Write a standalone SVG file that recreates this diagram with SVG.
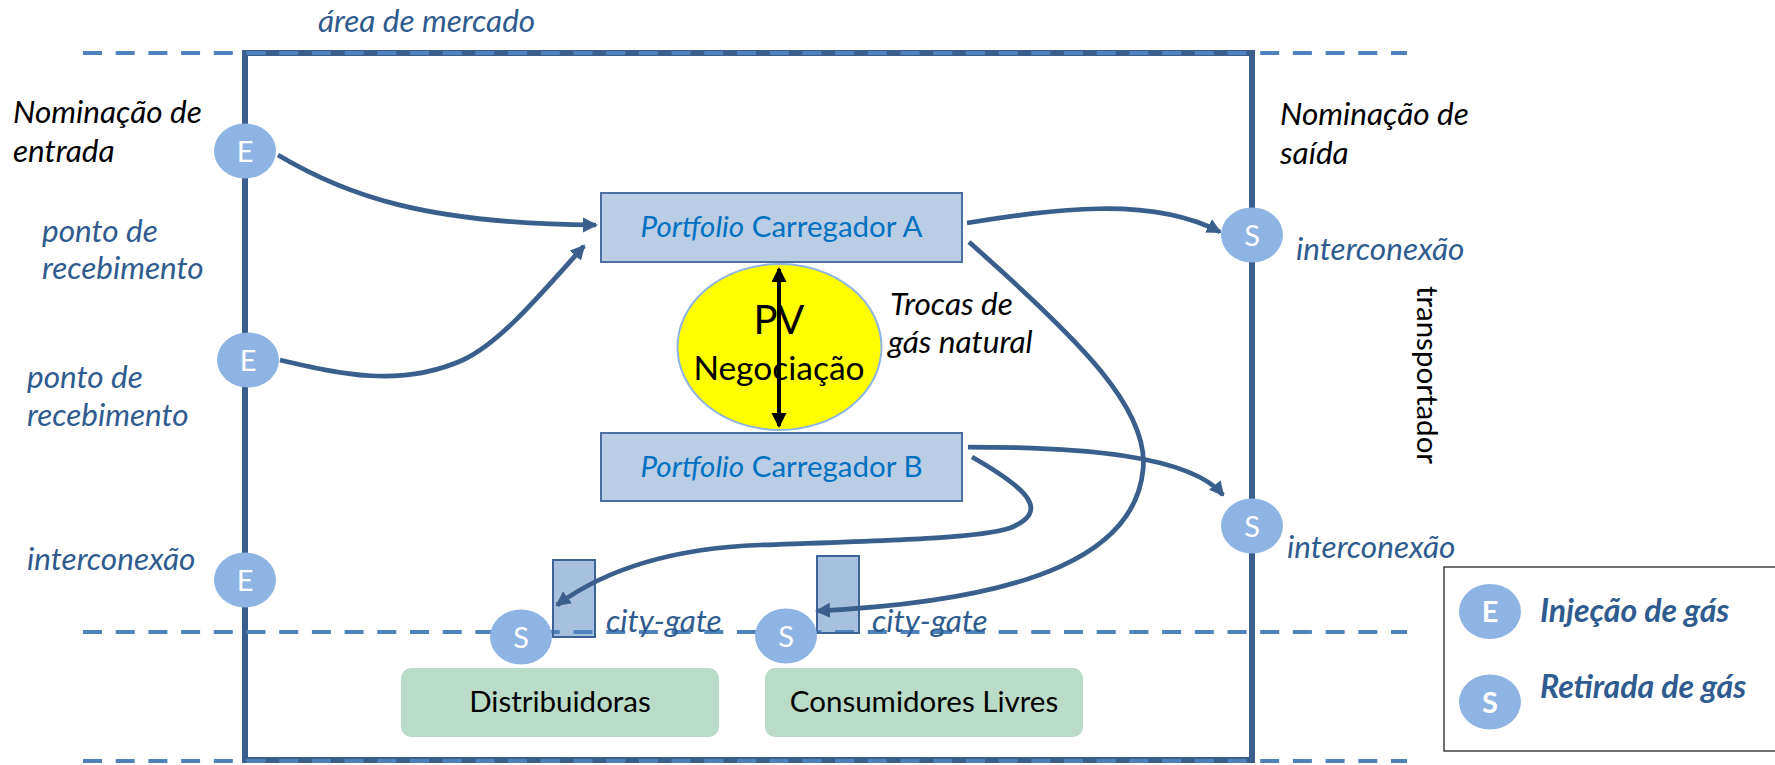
<svg xmlns="http://www.w3.org/2000/svg" width="1775" height="765" viewBox="0 0 1775 765">
<style>
text{font-family:Lato,"Liberation Sans",sans-serif}
.lb{font-style:italic;font-size:31.5px;fill:#2F5B8F}
.bk{font-style:italic;font-size:31.5px;fill:#000}
.lt{font-size:29px;fill:#fff;text-anchor:middle}
.pt{font-size:29.5px;fill:#0070C0;text-anchor:middle}
.dash{stroke:#4F81BD;stroke-width:4;stroke-dasharray:19 13.7;fill:none}
.pt-box{fill:#B9CDE5;stroke:#4A6FA0;stroke-width:2}
.cg{fill:#4F81BD;fill-opacity:0.5;stroke:#3E6398;stroke-width:2}
.green{fill:#BADBC8}
.es{fill:#8EB4E3}
.conn{fill:none;stroke:#3A5F8C;stroke-width:4.75;marker-end:url(#ah)}
.leg{font-style:italic;font-weight:bold;font-size:32px;fill:#2F5B8F}
</style>
<defs>
<marker id="ah" markerUnits="userSpaceOnUse" markerWidth="16" markerHeight="16" viewBox="0 0 16 16" refX="13" refY="7.5" orient="auto">
<path d="M0,0 L15,7.5 L0,15 z" fill="#3A5F8C"/>
</marker>
<marker id="bh" markerUnits="userSpaceOnUse" markerWidth="16" markerHeight="16" viewBox="0 0 16 16" refX="13" refY="7.5" orient="auto-start-reverse">
<path d="M0,0 L15,7.5 L0,15 z" fill="#000"/>
</marker>
</defs>
<rect width="1775" height="765" fill="#fff"/>

<g id="market-area">
<rect x="245" y="53" width="1007" height="707" fill="none" stroke="#3A5F8C" stroke-width="6"/>
</g>
<g id="distribuidoras">
<rect class="green" x="401" y="668" width="318" height="69" rx="10"/>
<text x="560" y="712" font-size="29.5" text-anchor="middle" fill="#000">Distribuidoras</text>
</g>
<g id="consumidores">
<rect class="green" x="765" y="668" width="318" height="69" rx="10"/>
<text x="924" y="712" font-size="29.5" text-anchor="middle" fill="#000">Consumidores Livres</text>
</g>

<g id="boundaries">
<line class="dash" x1="83" y1="53" x2="1407" y2="53"/>
<line class="dash" x1="83" y1="632" x2="1407" y2="632"/>
<line class="dash" x1="83" y1="761" x2="1407" y2="761"/>
</g>

<g id="citygate1"><rect class="cg" x="553" y="560" width="42" height="77"/></g>
<g id="citygate2"><rect class="cg" x="817" y="556" width="42" height="77"/></g>

<g id="pv">
<ellipse cx="779.5" cy="347" rx="102" ry="83" fill="#FFFF00" stroke="#8EB4E3" stroke-width="2"/>
<text x="779" y="334" font-size="40" text-anchor="middle" fill="#000">PV</text>
<text x="779" y="380" font-size="33.5" text-anchor="middle" fill="#000">Negociação</text>
</g>

<g id="portfolioA">
<rect class="pt-box" x="601" y="193" width="361" height="69"/>
<text class="pt" x="781.5" y="237"><tspan font-style="italic">Portfolio</tspan> Carregador A</text>
</g>
<g id="portfolioB">
<rect class="pt-box" x="601" y="433" width="361" height="68"/>
<text class="pt" x="781.5" y="477"><tspan font-style="italic">Portfolio</tspan> Carregador B</text>
</g>

<g id="connectors">
<path class="conn" d="M278,155 C345,195 425,224 596,225"/>
<path class="conn" d="M280,360 C340,374 400,388 463,360 C500,343 540,295 584,246"/>
<path class="conn" d="M967,223 C1050,210 1150,195 1220,232"/>
<path class="conn" d="M969,242 C1080,340 1150,410 1143,470 C1135,550 1040,600 817,611"/>
<path class="conn" d="M968,447 C1080,447 1190,455 1223,495"/>
<path class="conn" d="M972,457 C1030,490 1050,512 1010,528 C980,538 900,540 760,545 C680,548 610,566 557,605"/>
<line x1="779" y1="269" x2="779" y2="426" stroke="#000" stroke-width="4" marker-start="url(#bh)" marker-end="url(#bh)"/>
</g>

<g id="E1"><ellipse class="es" cx="245" cy="151" rx="31" ry="27.5"/><text class="lt" x="245" y="162">E</text></g>
<g id="E2"><ellipse class="es" cx="248" cy="360" rx="31" ry="27.5"/><text class="lt" x="248" y="371">E</text></g>
<g id="E3"><ellipse class="es" cx="245" cy="580" rx="31" ry="27.5"/><text class="lt" x="245" y="591">E</text></g>
<g id="S1"><ellipse class="es" cx="1252" cy="235" rx="31" ry="27.5"/><text class="lt" x="1252" y="246">S</text></g>
<g id="S2"><ellipse class="es" cx="1252" cy="526" rx="31" ry="27.5"/><text class="lt" x="1252" y="537">S</text></g>
<g id="S3"><ellipse class="es" cx="521" cy="637" rx="31" ry="27.5"/><text class="lt" x="521" y="648">S</text></g>
<g id="S4"><ellipse class="es" cx="786" cy="636" rx="31" ry="27.5"/><text class="lt" x="786" y="647">S</text></g>

<g id="labels">
<text class="lb" x="318" y="32">área de mercado</text>
<text class="bk" x="13" y="123">Nominação de</text>
<text class="bk" x="13" y="162">entrada</text>
<text class="lb" x="42" y="242">ponto de</text>
<text class="lb" x="42" y="279">recebimento</text>
<text class="lb" x="27" y="388">ponto de</text>
<text class="lb" x="27" y="426">recebimento</text>
<text class="lb" x="27" y="570">interconexão</text>
<text class="bk" x="1280" y="125">Nominação de</text>
<text class="bk" x="1280" y="164">saída</text>
<text class="lb" x="1296" y="260">interconexão</text>
<text class="lb" x="1287" y="558">interconexão</text>
<text class="bk" x="890" y="315">Trocas de</text>
<text class="bk" x="888" y="353">gás natural</text>
<text class="lb" x="606" y="632">city-gate</text>
<text class="lb" x="872" y="632">city-gate</text>
<text transform="translate(1417,375) rotate(90)" x="0" y="0" font-size="29.5" text-anchor="middle" fill="#000">transportador</text>
</g>

<g id="legend">
<rect x="1444" y="567" width="340" height="184" fill="#fff" stroke="#404040" stroke-width="1.5"/>
<ellipse class="es" cx="1490" cy="611.5" rx="31" ry="27.5"/>
<text class="lt" x="1490" y="622" font-weight="bold" font-size="27">E</text>
<ellipse class="es" cx="1490" cy="702" rx="31" ry="27.5"/>
<text class="lt" x="1490" y="713" font-weight="bold" font-size="27">S</text>
<text class="leg" x="1540" y="622">Injeção de gás</text>
<text class="leg" x="1540" y="698">Retirada de gás</text>
</g>
</svg>
